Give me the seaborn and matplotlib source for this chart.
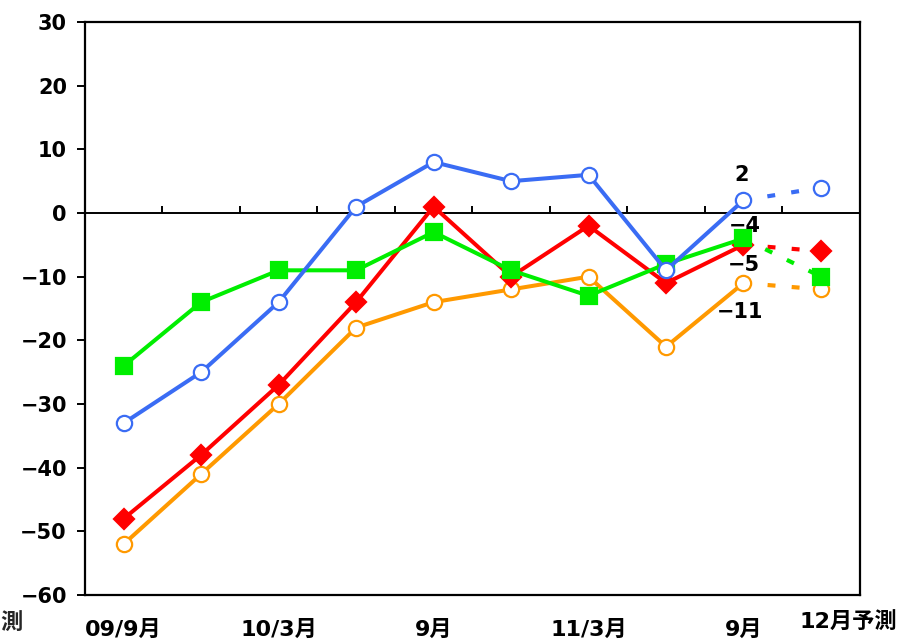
import matplotlib
matplotlib.use("Agg")
import matplotlib.pyplot as plt
import seaborn as sns
import numpy as np
from matplotlib.transforms import offset_copy

categories = ["09/9月", "12月", "10/3月", "6月", "9月", "12月", "11/3月", "6月", "9月", "12月予測"]
shown_labels = ["09/9月", "", "10/3月", "", "9月", "", "11/3月", "", "9月", "12月予測"]

blue = [-33, -25, -14, 1, 8, 5, 6, -9, 2, 4]
red = [-48, -38, -27, -14, 1, -10, -2, -11, -5, -6]
green = [-24, -14, -9, -9, -3, -9, -13, -8, -4, -10]
orange = [-52, -41, -30, -18, -14, -12, -10, -21, -11, -12]

ann_values = [2, -4, -5, -11]

sns.set_theme(style="white")
plt.rcParams['font.family'] = ['DejaVu Sans', 'Noto Sans CJK JP']
plt.rcParams['font.weight'] = 'bold'

fig = plt.figure(figsize=(9.04, 6.42), dpi=100)
ax = fig.add_axes([0.094, 0.0732, 0.857, 0.8925])

x = np.arange(len(categories))
series = [
    (orange, "#FF9900", "o", "white", 11, 3),
    (red, "#FF0000", "D", "#FF0000", 10.5, 4),
    (green, "#00EE00", "s", "#00EE00", 11, 5),
    (blue, "#3A6CF4", "o", "white", 11, 6),
]
for vals, col, mk, fc, ms, z in series:
    sns.lineplot(x=x[:9], y=vals[:9], ax=ax, color=col, lw=2.9, marker=mk,
                 markersize=ms, markerfacecolor=fc, markeredgecolor=col,
                 markeredgewidth=1.6, zorder=z)
    sns.lineplot(x=x[8:], y=vals[8:], ax=ax, color=col, lw=3.0,
                 linestyle=(0, (1.9, 3.9)), zorder=2)
    sns.lineplot(x=x[9:], y=vals[9:], ax=ax, color=col, lw=0, marker=mk,
                 markersize=ms, markerfacecolor=fc, markeredgecolor=col,
                 markeredgewidth=1.6, zorder=z)

ax.axhline(0, color="black", lw=1.4, zorder=1)
bounds = np.arange(len(categories) - 1) + 0.5
ax.vlines(bounds, 0, 1.1, color="black", lw=1.4, zorder=1)

ax.set_xlim(-0.5, len(categories) - 0.5)
ax.set_ylim(-60, 30)
ax.set_yticks(np.arange(-60, 31, 10))
ax.set_xticks(x)
ax.set_xticklabels(shown_labels)
ax.tick_params(axis="x", length=0, pad=18, labelsize=16)
ax.tick_params(axis="y", direction="out", length=6, width=1.4, color="black",
               left=True, labelsize=15, pad=7)
for lbl in ax.get_yticklabels() + ax.get_xticklabels():
    lbl.set_fontweight("bold")
    lbl.set_color("black")
xl = ax.get_xticklabels()
xl[-1].set_transform(offset_copy(xl[-1].get_transform(), fig=fig, x=27, y=9, units="dots"))

for sp in ax.spines.values():
    sp.set_color("black")
    sp.set_linewidth(1.6)

# annotations
ann_pos = [(7.98, 6.0), (8.02, -2.0), (8.0, -8.2), (7.95, -15.5)]
for v, (px, py) in zip(ann_values, ann_pos):
    ax.text(px, py, f"{v}".replace("-", "−"), ha="center", va="center",
            fontsize=15, fontweight="bold", color="black", zorder=7)

fig.text(0.0, 0.03, "測", fontsize=16, fontweight="bold", ha="left", va="center")

fig.savefig("out.png", dpi=100)
